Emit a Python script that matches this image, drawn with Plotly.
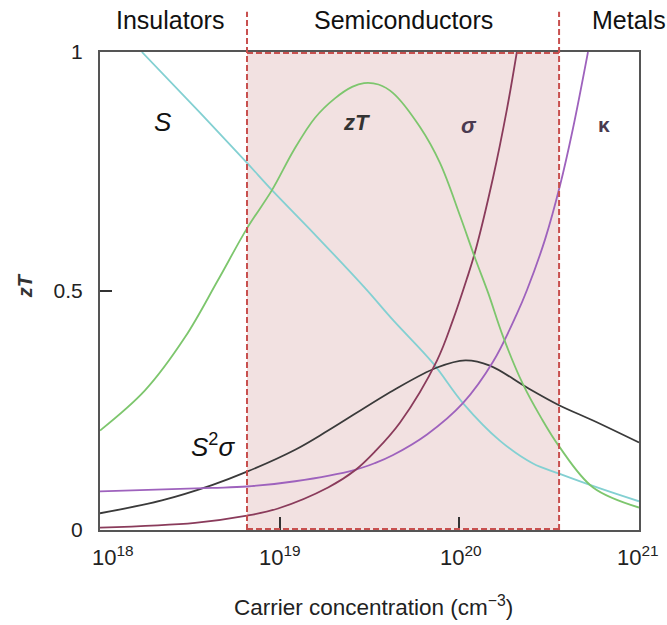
import math
import plotly.graph_objects as go

# ---- data (carrier concentration in cm^-3, values on the zT scale) ----
s_n = [1.71e18, 3.6e18, 6.58e18, 9.06e18, 1.6e19, 2.99e19, 4.28e19, 7.13e19, 1.05e20, 1.68e20, 2.57e20, 3.59e20, 6.07e20, 1.0e21]
s_v = [1.0, 0.873, 0.768, 0.711, 0.615, 0.506, 0.439, 0.349, 0.265, 0.187, 0.139, 0.118, 0.087, 0.060]

zt_n = [1.0e18, 1.78e18, 2.97e18, 4.54e18, 6.58e18, 9.06e18, 1.2e19, 1.57e19, 2.03e19, 2.53e19, 2.95e19, 3.55e19, 4.28e19, 6.04e19,
        7.80e19, 1.01e20, 1.22e20, 1.45e20, 1.75e20, 2.26e20, 2.85e20, 3.59e20, 5.55e20, 1.0e21]
zt_v = [0.208, 0.292, 0.403, 0.523, 0.631, 0.711, 0.795, 0.862, 0.903, 0.927, 0.935, 0.932, 0.914, 0.843,
        0.768, 0.657, 0.570, 0.495, 0.405, 0.305, 0.235, 0.175, 0.089, 0.047]

sig_n = [1.0e18, 3.38e18, 6.58e18, 9.8e18, 1.86e19, 2.63e19, 3.39e19, 4.68e19, 7.52e19, 9.23e19, 1.10e20, 1.22e20,
         1.54e20, 1.84e20, 2.09e20]
sig_v = [0.005, 0.015, 0.030, 0.045, 0.089, 0.125, 0.164, 0.225, 0.355, 0.440, 0.525, 0.58,
         0.737, 0.880, 1.0]

kap_n = [1.0e18, 4.2e18, 6.58e18, 1.22e19, 2.63e19, 3.39e19, 4.28e19, 6.61e19, 1.05e20, 1.54e20, 2.09e20, 2.38e20,
         3.0e20, 3.63e20, 4.29e20, 5.2e20]
kap_v = [0.081, 0.088, 0.091, 0.102, 0.126, 0.140, 0.157, 0.200, 0.266, 0.352, 0.452, 0.502,
         0.608, 0.720, 0.840, 1.0]

pf_n = [1.0e18, 2.21e18, 4.2e18, 6.58e18, 1.22e19, 1.86e19, 4.28e19, 7.52e19, 1.08e20, 1.48e20, 2.38e20,
        3.59e20, 5.55e20, 1.0e21]
pf_v = [0.035, 0.062, 0.094, 0.122, 0.168, 0.208, 0.292, 0.340, 0.355, 0.344, 0.298,
        0.261, 0.229, 0.183]

region_bounds = [6.58e18, 3.59e20]
region_labels = ["Insulators", "Semiconductors", "Metals"]
region_label_x = [2.45e18, 4.9e19, 8.8e20]

x_tick_vals = [1e18, 1e19, 1e20, 1e21]
x_tick_text = ["10<sup>18</sup>", "10<sup>19</sup>", "10<sup>20</sup>", "10<sup>21</sup>"]
y_tick_vals = [0, 0.5, 1]
y_tick_text = ["0", "0.5", "1"]

COL_S = "#83d0d2"
COL_ZT = "#7dc66d"
COL_SIG = "#8a3b5b"
COL_KAP = "#9e62bd"
COL_PF = "#3a3a3a"
RED = "#c8504f"
FONT = "Liberation Sans, Arial, sans-serif"
DASH = dict(color=RED, width=2, dash="6px,3px")

lg = math.log10

fig = go.Figure()

# shaded semiconductor band
fig.add_shape(type="rect", xref="x", yref="paper", x0=region_bounds[0], x1=region_bounds[1], y0=0, y1=1,
              fillcolor="#f2e1e1", line=dict(width=0), layer="below")
for b in region_bounds:
    fig.add_shape(type="line", xref="x", yref="paper", x0=b, x1=b, y0=0, y1=1.084, line=DASH, layer="above")
for yy in (0.002, 0.998):
    fig.add_shape(type="line", xref="x", yref="paper", x0=region_bounds[0], x1=region_bounds[1], y0=yy, y1=yy,
                  line=DASH, layer="above")

for n, v, c in [(s_n, s_v, COL_S), (pf_n, pf_v, COL_PF), (kap_n, kap_v, COL_KAP),
                (sig_n, sig_v, COL_SIG), (zt_n, zt_v, COL_ZT)]:
    fig.add_trace(go.Scatter(x=n, y=v, mode="lines", line=dict(color=c, width=1.8, shape="spline", smoothing=1.0),
                             showlegend=False, hoverinfo="skip"))

ann = []
for lab, xv in zip(region_labels, region_label_x):
    ann.append(dict(x=lg(xv), y=1.067, xref="x", yref="paper", text=lab, showarrow=False,
                    font=dict(family=FONT, size=25, color="#111"), xanchor="center", yanchor="middle"))
x_label_pos = [1.18e18, 1.0e19, 1.02e20, 9.9e20]
for xv, t in zip(x_label_pos, x_tick_text):
    ann.append(dict(x=lg(xv), y=-0.055, xref="x", yref="paper", text=t, showarrow=False,
                    font=dict(family=FONT, size=22, color="#222"), xanchor="center", yanchor="middle"))
curve_labels = [
    (2.24e18, 0.853, "<i>S</i>", 26, "#111"),
    (2.69e19, 0.853, "<i><b>zT</b></i>", 22, "#333"),
    (1.13e20, 0.847, "<i><b>σ</b></i>", 22, "#4a3a50"),
    (6.4e20, 0.849, "<b>κ</b>", 21, "#4a3a50"),
    (4.26e18, 0.177, "<i>S</i><sup>2</sup><i>σ</i>", 26, "#111"),
]
for xv, yv, t, sz, c in curve_labels:
    ann.append(dict(x=lg(xv), y=yv, xref="x", yref="y", text=t, showarrow=False,
                    font=dict(family=FONT, size=sz, color=c), xanchor="center", yanchor="middle"))
ann.append(dict(x=0.508, y=-0.16, xref="paper", yref="paper", text="Carrier concentration (cm<sup>−3</sup>)",
                showarrow=False, font=dict(family=FONT, size=22.5, color="#222"), xanchor="center", yanchor="middle"))
ann.append(dict(x=-0.139, y=0.51, xref="paper", yref="paper", text="<i><b>zT</b></i>", textangle=-90,
                showarrow=False, font=dict(family=FONT, size=20, color="#333"), xanchor="center", yanchor="middle"))

fig.update_layout(
    width=667, height=625,
    margin=dict(l=100, r=28, t=52, b=95),
    plot_bgcolor="rgba(0,0,0,0)", paper_bgcolor="white",
    annotations=ann,
    showlegend=False,
)
fig.update_xaxes(type="log", range=[18, 21], showgrid=False, zeroline=False,
                 showline=True, linecolor="#555", linewidth=2, mirror=True,
                 tickvals=x_tick_vals[1:3], ticks="inside", ticklen=13, tickwidth=1.5, tickcolor="#333",
                 showticklabels=False)
fig.update_yaxes(range=[0, 1], showgrid=False, zeroline=False,
                 showline=True, linecolor="#555", linewidth=2, mirror=True,
                 tickvals=y_tick_vals, ticktext=y_tick_text, ticks="inside", ticklen=12, tickwidth=1.5,
                 tickcolor="#333", ticklabelstandoff=11,
                 tickfont=dict(family=FONT, size=21, color="#222"))

fig.write_html("out.html")
